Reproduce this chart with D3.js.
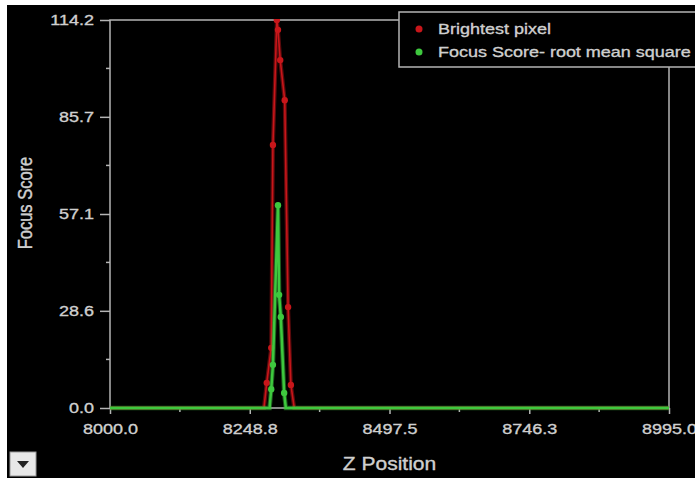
<!DOCTYPE html>
<html>
<head>
<meta charset="utf-8">
<script src="https://cdn.jsdelivr.net/npm/d3@7"></script>
<style>
  body { margin: 0; background: #fff; }
  svg { display: block; font-family: "Liberation Sans", Arial, sans-serif; }
  svg text { stroke: #cfcfcf; stroke-width: 0.35px; }
</style>
</head>
<body>
<div id="chart"></div>
<script>
// Brightest pixel series
var brightZ = [8000, 8274, 8279, 8287, 8290, 8297, 8299, 8303, 8311, 8317, 8322, 8328, 8995];
var brightV = [0, 0, 7.4, 17.7, 77.4, 114.2, 111.3, 102.4, 90.6, 29.7, 6.8, 0, 0];

// Focus score - root mean square series
var rmsZ = [8000, 8284, 8287, 8290, 8299, 8301, 8304, 8310, 8313, 8995];
var rmsV = [0, 0, 5.5, 12.7, 59.7, 33.3, 26.8, 4.4, 0, 0];

var xTicks = [8000.0, 8248.8, 8497.5, 8746.3, 8995.0];
var yTicks = [0.0, 28.6, 57.1, 85.7, 114.2];
var legendNames = ["Brightest pixel", "Focus Score- root mean square"];

var width = 695;
var height = 478;
var margin = { top: 20, right: 26, bottom: 70, left: 110 };
var sx = 1.2; // the screenshot text is wider than it is tall

var red = "#c8161a";
var green = "#3ec83e";
var axisColor = "#b4b4b4";
var textColor = "#cfcfcf";

var svg = d3.select("#chart").append("svg")
  .attr("width", width)
  .attr("height", height);

// white frame edge + black panel
svg.append("rect").attr("width", width).attr("height", height).attr("fill", "#fff");
svg.append("rect").attr("x", 7).attr("y", 5)
  .attr("width", width - 7).attr("height", height - 5).attr("fill", "#000");

var xScale = d3.scaleLinear()
  .domain([8000, 8995])
  .range([margin.left, width - margin.right]);

var yScale = d3.scaleLinear()
  .domain([0, 114.2])
  .range([height - margin.bottom, margin.top]);

// plot frame
svg.append("rect")
  .attr("x", xScale(8000)).attr("y", yScale(114.2))
  .attr("width", xScale(8995) - xScale(8000))
  .attr("height", yScale(0) - yScale(114.2))
  .attr("fill", "none").attr("stroke", axisColor).attr("stroke-width", 1.5);

// minor ticks
var xMinor = d3.pairs(xTicks).map((p) => (p[0] + p[1]) / 2);
var yMinor = d3.pairs(yTicks).map((p) => (p[0] + p[1]) / 2);

/* Axes */
var xAxis = d3.axisBottom(xScale).tickValues(xTicks).tickFormat(d3.format(".1f")).tickSize(6).tickPadding(9);
var yAxis = d3.axisLeft(yScale).tickValues(yTicks).tickFormat(d3.format(".1f")).tickSize(10).tickPadding(6);

var gx = svg.append("g")
  .attr("transform", `translate(0, ${yScale(0)})`)
  .call(xAxis);
var gy = svg.append("g")
  .attr("transform", `translate(${xScale(8000)}, 0)`)
  .call(yAxis);

gx.append("g").selectAll("line").data(xMinor).enter().append("line")
  .attr("x1", (d) => xScale(d)).attr("x2", (d) => xScale(d))
  .attr("y1", 0).attr("y2", 4);
gy.append("g").selectAll("line").data(yMinor).enter().append("line")
  .attr("y1", (d) => yScale(d)).attr("y2", (d) => yScale(d))
  .attr("x1", 0).attr("x2", -4);

[gx, gy].forEach(function (g) {
  g.select(".domain").remove();
  g.selectAll("line").attr("stroke", axisColor).attr("stroke-width", 1.5);
  g.selectAll("text").attr("fill", textColor).style("font-size", "15px");
});
gx.selectAll(".tick text").attr("transform", `scale(${sx},1)`);
gy.selectAll(".tick text")
  .attr("x", 0)
  .attr("transform", `translate(-16,0) scale(${sx},1)`);

/* Axis titles */
svg.append("text")
  .attr("transform", `translate(${(xScale(8000) + xScale(8995)) / 2}, 470) scale(${sx},1)`)
  .attr("text-anchor", "middle")
  .attr("fill", textColor)
  .style("font-size", "17.5px")
  .text("Z Position");

svg.append("text")
  .attr("transform", `translate(32, 203) rotate(-90) scale(1,${sx})`)
  .attr("text-anchor", "middle")
  .attr("fill", textColor)
  .style("font-size", "16.5px")
  .text("Focus Score");

/* Lines and points */
var line = d3.line()
  .x((d) => xScale(d.z))
  .y((d) => yScale(d.v));

var series = [
  { name: legendNames[0], color: red, values: brightZ.map((z, i) => ({ z: z, v: brightV[i] })) },
  { name: legendNames[1], color: green, values: rmsZ.map((z, i) => ({ z: z, v: rmsV[i] })) }
];

svg.append("clipPath").attr("id", "plot-clip").append("rect")
  .attr("x", xScale(8000)).attr("y", yScale(114.2) - 1)
  .attr("width", xScale(8995) - xScale(8000))
  .attr("height", yScale(0) - yScale(114.2) + 4);

var lines = svg.append("g").attr("clip-path", "url(#plot-clip)");

series.forEach(function (s, idx) {
  lines.append("path")
    .attr("d", line(s.values))
    .attr("fill", "none")
    .attr("stroke", s.color)
    .attr("stroke-opacity", 0.45)
    .attr("stroke-width", idx === 1 ? 4.5 : 4);
  lines.append("path")
    .attr("d", line(s.values))
    .attr("fill", "none")
    .attr("stroke", s.color)
    .attr("stroke-width", idx === 1 ? 2.5 : 1.6);
  lines.selectAll(null)
    .data(s.values.filter((d) => d.v > 0))
    .enter().append("circle")
    .attr("cx", (d) => xScale(d.z))
    .attr("cy", (d) => yScale(d.v))
    .attr("r", 3.2)
    .attr("fill", s.color);
});

/* Legend */
var legend = svg.append("g");
legend.append("rect")
  .attr("x", 399).attr("y", 12)
  .attr("width", 320).attr("height", 55)
  .attr("fill", "#000").attr("stroke", axisColor).attr("stroke-width", 1.5);

series.forEach(function (s, i) {
  var y = 29 + i * 23;
  legend.append("circle").attr("cx", 419).attr("cy", y).attr("r", 3.5).attr("fill", s.color);
  legend.append("text")
    .attr("transform", `translate(438, ${y}) scale(${sx},1)`)
    .attr("dy", "0.35em")
    .attr("fill", textColor)
    .style("font-size", "15px")
    .text(s.name);
});

/* dropdown button */
var btn = svg.append("g");
btn.append("rect").attr("x", 10).attr("y", 452).attr("width", 26).attr("height", 24)
  .attr("fill", "#e8e8e8").attr("stroke", "#999");
btn.append("path").attr("d", "M17,461 L29,461 L23,468 Z").attr("fill", "#222");
</script>
</body>
</html>
